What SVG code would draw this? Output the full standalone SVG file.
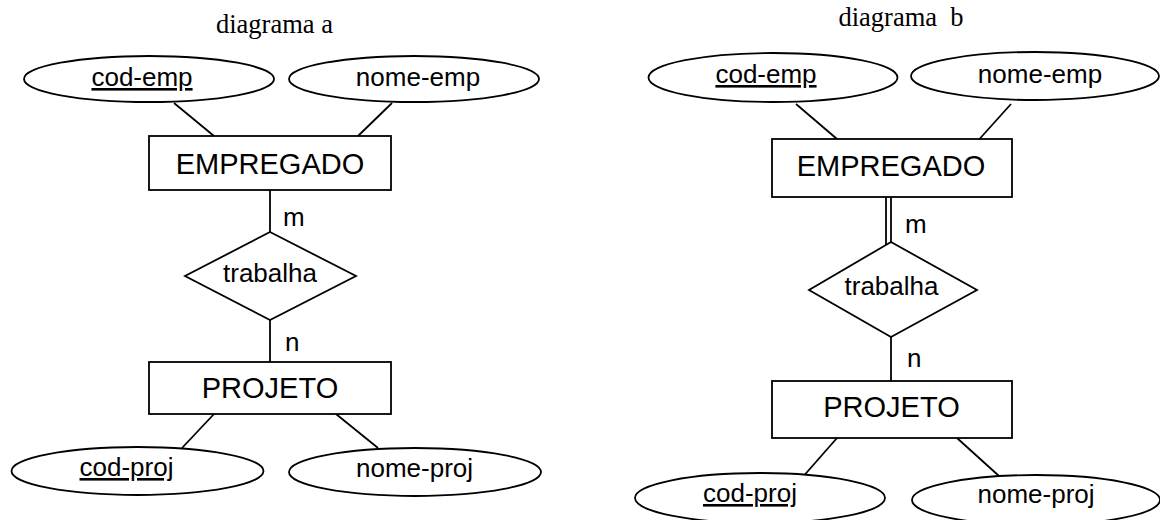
<svg xmlns="http://www.w3.org/2000/svg" width="1160" height="520" viewBox="0 0 1160 520">
<style>
.s{fill:#fff;stroke:#000;stroke-width:1.8}
.c line{stroke:#000;stroke-width:1.8}
.t{font-family:"Liberation Sans",Arial,sans-serif;fill:#000}
.a{font-size:26px;text-anchor:middle}
.e{font-size:29px;text-anchor:middle}
.l{font-size:26px}
.k{text-decoration:underline}
.ti{font-family:"Liberation Serif","Times New Roman",serif;font-size:26.5px;text-anchor:middle;white-space:pre}
</style>
<rect width="1160" height="520" fill="#fff"/>
<text class="ti" x="274.5" y="33">diagrama a</text>
<text class="ti" x="901" y="26">diagrama  b</text>
<g class="c" id="connectors">
<line x1="174" y1="103" x2="214" y2="136"/>
<line x1="392" y1="103" x2="358" y2="136"/>
<line x1="270" y1="190" x2="270" y2="232"/>
<line x1="270" y1="320" x2="270" y2="362"/>
<line x1="214" y1="414" x2="182" y2="448"/>
<line x1="336" y1="414" x2="378" y2="448"/>
<line x1="796" y1="104" x2="837" y2="139"/>
<line x1="1011" y1="104" x2="979.5" y2="139"/>
<line x1="886" y1="197" x2="886" y2="245"/>
<line x1="891" y1="197" x2="891" y2="242"/>
<line x1="891" y1="337" x2="891" y2="381"/>
<line x1="837" y1="438" x2="804.5" y2="475"/>
<line x1="957" y1="438" x2="999" y2="476"/>
</g>
<g class="t l" id="cardinalities">
<text x="283" y="226">m</text>
<text x="285" y="351">n</text>
<text x="905" y="233">m</text>
<text x="907" y="367">n</text>
</g>
<g id="a-cod-emp"><ellipse class="s" cx="149" cy="79" rx="125" ry="23"/><text class="t a k" x="142" y="86">cod-emp</text></g>
<g id="a-nome-emp"><ellipse class="s" cx="414" cy="79" rx="125" ry="23"/><text class="t a" x="418" y="86">nome-emp</text></g>
<g id="a-empregado"><rect class="s" x="149" y="136" width="242" height="54"/><text class="t e" x="270" y="174">EMPREGADO</text></g>
<g id="a-trabalha"><polygon class="s" points="270,232 356,276 270,320 185,276"/><text class="t a" x="270" y="282">trabalha</text></g>
<g id="a-projeto"><rect class="s" x="149" y="362" width="242" height="52"/><text class="t e" x="270" y="398">PROJETO</text></g>
<g id="a-cod-proj"><ellipse class="s" cx="137.5" cy="471" rx="126" ry="24"/><text class="t a k" x="126.5" y="476">cod-proj</text></g>
<g id="a-nome-proj"><ellipse class="s" cx="415" cy="472" rx="126" ry="24"/><text class="t a" x="414.5" y="477">nome-proj</text></g>
<g id="b-cod-emp"><ellipse class="s" cx="773" cy="77.5" rx="124.5" ry="24.5"/><text class="t a k" x="766" y="83">cod-emp</text></g>
<g id="b-nome-emp"><ellipse class="s" cx="1035" cy="76" rx="124" ry="24"/><text class="t a" x="1040" y="83">nome-emp</text></g>
<g id="b-empregado"><rect class="s" x="772" y="139" width="240" height="58"/><text class="t e" x="891" y="176">EMPREGADO</text></g>
<g id="b-trabalha"><polygon class="s" points="891,242 977,290 891,337 809,290"/><text class="t a" x="891.5" y="295">trabalha</text></g>
<g id="b-projeto"><rect class="s" x="772" y="381" width="240" height="57"/><text class="t e" x="891.5" y="417">PROJETO</text></g>
<g id="b-cod-proj"><ellipse class="s" cx="760" cy="498" rx="125" ry="25"/><text class="t a k" x="750" y="502">cod-proj</text></g>
<g id="b-nome-proj"><ellipse class="s" cx="1036" cy="500" rx="124" ry="25"/><text class="t a" x="1036" y="503">nome-proj</text></g>
</svg>
